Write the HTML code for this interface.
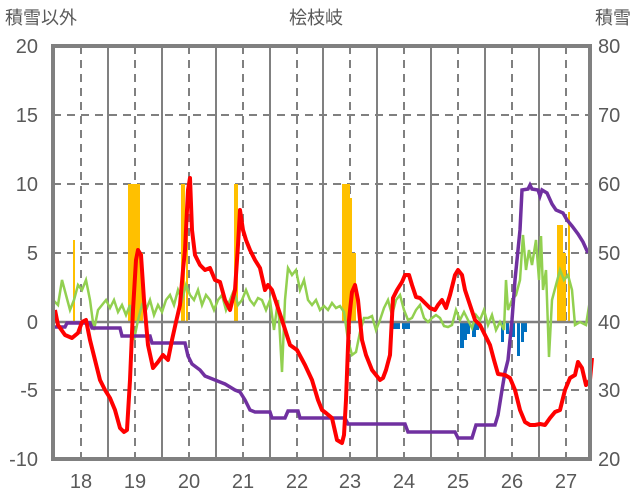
<!DOCTYPE html><html><head><meta charset="utf-8"><style>body{margin:0;background:#fff}svg{display:block}text{font-family:"Liberation Sans","Noto Sans CJK JP",sans-serif;fill:#595959}</style></head><body>
<svg width="636" height="501" viewBox="0 0 636 501">
<g font-size="18">
<text x="5" y="24">積雪以外</text><text x="316" y="24" text-anchor="middle">桧枝岐</text><text x="631" y="24" text-anchor="end">積雪</text>
</g>
<g font-size="20" text-anchor="end">
<text x="38" y="53">20</text><text x="38" y="122">15</text><text x="38" y="191">10</text><text x="38" y="260">5</text><text x="38" y="329">0</text><text x="38" y="397">-5</text><text x="38" y="466">-10</text>
</g>
<g font-size="20">
<text x="598" y="53">80</text><text x="598" y="122">70</text><text x="598" y="191">60</text><text x="598" y="260">50</text><text x="598" y="329">40</text><text x="598" y="397">30</text><text x="598" y="466">20</text>
</g>
<g font-size="20" text-anchor="middle">
<text x="81" y="488">18</text><text x="135" y="488">19</text><text x="189" y="488">20</text><text x="243" y="488">21</text><text x="297" y="488">22</text><text x="350" y="488">23</text><text x="404" y="488">24</text><text x="458" y="488">25</text><text x="512" y="488">26</text><text x="566" y="488">27</text>
</g>
<g stroke="#808080" stroke-width="2" stroke-dasharray="8,6">
<line x1="53" y1="115" x2="590" y2="115"/><line x1="53" y1="184" x2="590" y2="184"/><line x1="53" y1="253" x2="590" y2="253"/><line x1="53" y1="390" x2="590" y2="390"/>
<line x1="81" y1="46" x2="81" y2="459"/><line x1="135" y1="46" x2="135" y2="459"/><line x1="189" y1="46" x2="189" y2="459"/><line x1="243" y1="46" x2="243" y2="459"/><line x1="297" y1="46" x2="297" y2="459"/><line x1="350" y1="46" x2="350" y2="459"/><line x1="404" y1="46" x2="404" y2="459"/><line x1="458" y1="46" x2="458" y2="459"/><line x1="512" y1="46" x2="512" y2="459"/><line x1="566" y1="46" x2="566" y2="459"/>
</g>
<g stroke="#808080" stroke-width="2">
<line x1="108" y1="46" x2="108" y2="459"/><line x1="162" y1="46" x2="162" y2="459"/><line x1="216" y1="46" x2="216" y2="459"/><line x1="270" y1="46" x2="270" y2="459"/><line x1="323" y1="46" x2="323" y2="459"/><line x1="377" y1="46" x2="377" y2="459"/><line x1="431" y1="46" x2="431" y2="459"/><line x1="485" y1="46" x2="485" y2="459"/><line x1="539" y1="46" x2="539" y2="459"/>
</g>
<g fill="#FFC000">
<rect x="73" y="240" width="2" height="82"/><rect x="128" y="184" width="12" height="138"/><rect x="140" y="253" width="3" height="69"/><rect x="181" y="184" width="4" height="138"/><rect x="186" y="230" width="2" height="92"/><rect x="234" y="184" width="4" height="138"/><rect x="342" y="184" width="8" height="138"/><rect x="350" y="198" width="2" height="124"/><rect x="352" y="253" width="4" height="69"/><rect x="557" y="225" width="6" height="97"/><rect x="563" y="253" width="3" height="69"/><rect x="568" y="212" width="2" height="110"/>
</g>
<g fill="#0070C0">
<rect x="392" y="322" width="8" height="7"/><rect x="402" y="322" width="8" height="7"/><rect x="460" y="322" width="4" height="26"/><rect x="464" y="322" width="3" height="18"/><rect x="467" y="322" width="3" height="12"/><rect x="472" y="322" width="4" height="15"/><rect x="476" y="322" width="3" height="8"/><rect x="501" y="322" width="3" height="20"/><rect x="506" y="322" width="3" height="12"/><rect x="512" y="322" width="3" height="15"/><rect x="517" y="322" width="3" height="34"/><rect x="521" y="322" width="3" height="20"/><rect x="524" y="322" width="3" height="10"/>
</g>
<line x1="53" y1="322" x2="590" y2="322" stroke="#808080" stroke-width="2.5"/>
<polyline fill="none" stroke="#92D050" stroke-width="2.5" points="53,300 58,305 62,280 66,295 70,310 74,300 78,285 82,290 86,280 90,300 94,330 98,310 102,305 106,300 110,308 114,300 118,312 122,305 126,315 130,305 134,340 138,320 142,305 146,310 150,300 154,315 158,305 162,312 166,300 170,295 174,305 178,290 182,300 186,285 190,295 194,300 198,290 202,305 206,295 210,300 214,310 218,300 222,295 226,310 230,300 234,290 238,305 242,300 246,290 250,300 254,305 258,298 262,300 266,310 270,300 274,330 278,300 282,372 285,300 288,268 292,275 296,270 300,290 304,280 308,300 312,305 316,300 320,310 324,306 328,310 332,303 336,308 340,306 344,312 348,340 352,355 356,352 360,332 364,318 368,318 372,316 376,330 380,320 384,308 388,300 392,315 396,300 400,295 404,310 408,320 412,318 416,310 420,305 424,318 428,322 432,318 436,315 440,318 444,326 448,327 452,325 456,310 460,320 464,312 468,320 472,328 476,315 480,320 484,310 488,325 492,315 496,330 500,322 504,330 506,280 508,310 512,300 516,295 520,280 523,235 526,270 529,250 532,265 536,240 539,280 541,236 543,290 546,270 549,357 552,300 556,285 560,270 564,280 568,275 572,290 575,325 580,322 586,325 590,300"/>
<polyline fill="none" stroke="#7030A0" stroke-width="3.5" points="53,327 65,327 67,323 90,323 92,328 120,328 122,336 150,336 152,343 185,343 188,356 192,364 200,370 205,376 215,380 225,384 235,390 240,392 245,400 250,410 255,412 270,412 272,418 285,418 288,411 298,411 300,418 345,418 348,424 405,424 408,432 455,432 458,438 472,438 476,425 495,425 498,415 502,390 505,372 508,360 512,320 515,280 520,230 522,190 528,189 530,185 532,189 538,190 540,196 542,190 547,193 552,204 556,210 563,213 567,220 572,226 578,234 583,242 588,253"/>
<polyline fill="none" stroke="#FF0000" stroke-width="4" stroke-linejoin="round" points="55,310 58,325 65,335 72,338 78,333 82,322 86,320 90,340 95,360 100,380 105,390 110,398 115,410 120,428 124,432 127,430 130,380 133,310 136,260 138,250 141,255 144,300 148,345 153,368 158,362 163,355 168,360 172,340 176,322 180,305 183,270 185,250 188,190 190,178 192,230 195,255 200,265 205,270 210,268 215,280 220,282 225,300 230,310 235,290 238,245 240,210 243,230 246,240 250,250 255,260 260,268 265,290 268,285 272,290 277,305 282,320 290,345 297,350 305,365 312,380 318,400 322,410 326,413 332,418 337,440 342,443 344,435 346,400 349,320 352,292 355,285 358,300 362,340 366,355 372,370 376,375 380,380 383,378 386,370 390,355 393,298 397,290 402,282 405,275 409,275 412,285 416,297 420,298 425,303 430,308 435,310 438,305 442,300 446,308 450,295 455,275 458,270 462,275 465,290 470,305 475,320 480,325 485,335 490,345 494,360 498,374 505,375 510,378 515,390 520,410 525,422 530,425 535,425 540,424 545,425 550,418 555,412 560,410 565,390 570,378 575,375 578,362 582,368 586,385 590,380 592,358"/>
<rect x="53" y="46" width="537" height="413" fill="none" stroke="#808080" stroke-width="4"/>
</svg>
</body></html>
